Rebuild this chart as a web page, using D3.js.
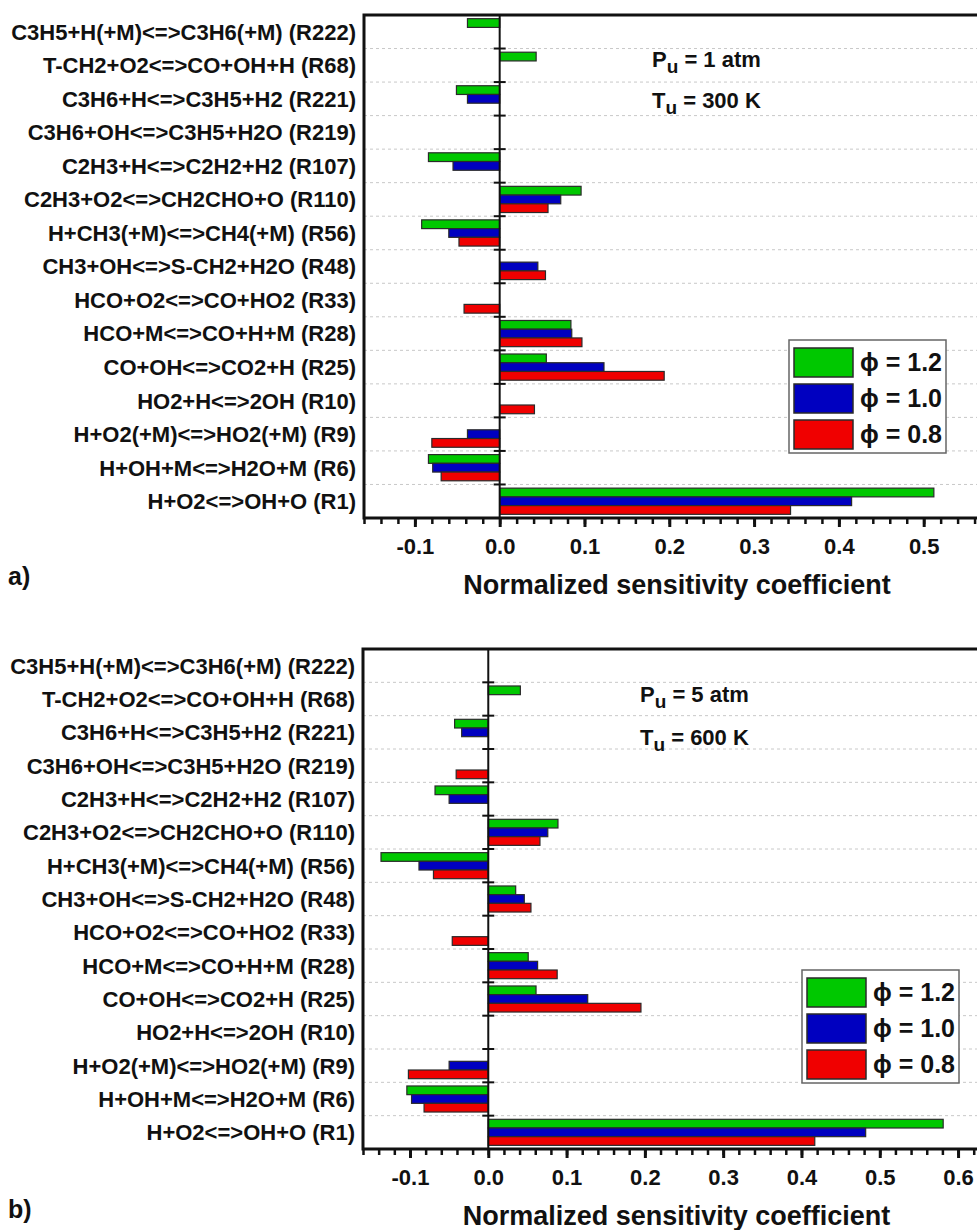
<!DOCTYPE html>
<html>
<head>
<meta charset="utf-8">
<script src="https://cdn.jsdelivr.net/npm/d3@7"></script>
<style>
    body { margin: 0; background: #fff; }
    svg text { font-family: "Liberation Sans", Arial, sans-serif; font-weight: bold; fill: #111; }
</style>
</head>
<body>
<div id="chart"></div>
<script>
// Reactions, listed top to bottom as in the figure
var reactions = [
    'C3H5+H(+M)<=>C3H6(+M) (R222)',
    'T-CH2+O2<=>CO+OH+H (R68)',
    'C3H6+H<=>C3H5+H2 (R221)',
    'C3H6+OH<=>C3H5+H2O (R219)',
    'C2H3+H<=>C2H2+H2 (R107)',
    'C2H3+O2<=>CH2CHO+O (R110)',
    'H+CH3(+M)<=>CH4(+M) (R56)',
    'CH3+OH<=>S-CH2+H2O (R48)',
    'HCO+O2<=>CO+HO2 (R33)',
    'HCO+M<=>CO+H+M (R28)',
    'CO+OH<=>CO2+H (R25)',
    'HO2+H<=>2OH (R10)',
    'H+O2(+M)<=>HO2(+M) (R9)',
    'H+OH+M<=>H2O+M (R6)',
    'H+O2<=>OH+O (R1)'
];

var seriesLabels = ['\u03D5 = 1.2', '\u03D5 = 1.0', '\u03D5 = 0.8'];
var seriesColors = ['#00c800', '#0000c0', '#f00000'];

// a) Pu = 1 atm, Tu = 300 K  (null = bar not shown)
var phi12Atm1 = [-0.038, 0.043, -0.051, null, -0.084, 0.096, -0.092, null, null, 0.084, 0.055, null, null, -0.084, 0.512];
var phi10Atm1 = [null, null, -0.038, null, -0.055, 0.072, -0.060, 0.045, null, 0.085, 0.123, null, -0.038, -0.079, 0.415];
var phi08Atm1 = [null, null, null, null, null, 0.057, -0.048, 0.054, -0.042, 0.097, 0.194, 0.041, -0.080, -0.069, 0.343];

// b) Pu = 5 atm, Tu = 600 K
var phi12Atm5 = [null, 0.041, -0.043, null, -0.068, 0.089, -0.137, 0.035, null, 0.051, 0.061, null, null, -0.104, 0.581];
var phi10Atm5 = [null, null, -0.034, null, -0.050, 0.076, -0.0885, 0.046, null, 0.063, 0.127, null, -0.050, -0.098, 0.482];
var phi08Atm5 = [null, null, null, -0.041, null, 0.066, -0.070, 0.0545, -0.046, 0.088, 0.195, null, -0.102, -0.082, 0.417];

// Axis ticks
var ticksAtm1 = [-0.1, 0, 0.1, 0.2, 0.3, 0.4, 0.5];
var ticksAtm5 = [-0.1, 0, 0.1, 0.2, 0.3, 0.4, 0.5, 0.6];

var xTitle = 'Normalized sensitivity coefficient';

var width = 977, height = 1230;

var svg = d3.select('#chart')
    .append('svg')
    .attr('width', width)
    .attr('height', height);

function drawPanel(cfg) {
    var g = svg.append('g');

    var x = d3.scaleLinear().domain(cfg.domain).range([cfg.left, cfg.right]);
    var y = d3.scaleBand().domain(reactions).range([cfg.top, cfg.bottom]);
    var yInner = d3.scaleBand().domain([0, 1, 2]).range([0, y.bandwidth()]).paddingOuter(0.42);

    // dotted grid lines at row boundaries
    g.selectAll('.grid')
        .data(reactions.slice(1))
        .enter().append('line')
        .attr('x1', cfg.left).attr('x2', cfg.right)
        .attr('y1', function(d) { return y(d); })
        .attr('y2', function(d) { return y(d); })
        .attr('stroke', '#c8c8c8')
        .attr('stroke-width', 1)
        .attr('stroke-dasharray', '3,3');

    // bars
    cfg.series.forEach(function(values, si) {
        g.selectAll('.bar' + si)
            .data(values.map(function(v, i) { return { v: v, r: reactions[i] }; })
                .filter(function(d) { return d.v !== null; }))
            .enter().append('rect')
            .attr('x', function(d) { return x(Math.min(0, d.v)); })
            .attr('width', function(d) { return Math.abs(x(d.v) - x(0)); })
            .attr('y', function(d) { return y(d.r) + yInner(si); })
            .attr('height', yInner.bandwidth())
            .attr('fill', seriesColors[si])
            .attr('stroke', '#2a2a2a')
            .attr('stroke-width', 1.2);
    });

    // zero line with category ticks
    g.append('line')
        .attr('x1', x(0)).attr('x2', x(0))
        .attr('y1', cfg.top).attr('y2', cfg.bottom)
        .attr('stroke', '#111').attr('stroke-width', 2);

    g.selectAll('.ytick')
        .data(reactions.slice(1))
        .enter().append('line')
        .attr('x1', x(0) - 6).attr('x2', x(0) + 6)
        .attr('y1', function(d) { return y(d); })
        .attr('y2', function(d) { return y(d); })
        .attr('stroke', '#111').attr('stroke-width', 2);

    // category labels
    g.selectAll('.ylabel')
        .data(reactions)
        .enter().append('text')
        .attr('x', cfg.left - 8)
        .attr('y', function(d) { return y(d) + y.bandwidth() / 2; })
        .attr('dy', '0.36em')
        .attr('text-anchor', 'end')
        .style('font-size', '22px')
        .text(function(d) { return d; });

    // frame (left, top, bottom thick)
    g.append('path')
        .attr('d', 'M' + cfg.right + ',' + cfg.top + 'H' + cfg.left + 'V' + cfg.bottom + 'H' + cfg.right)
        .attr('fill', 'none')
        .attr('stroke', '#111')
        .attr('stroke-width', 3);

    // minor ticks every 0.02
    var minor = d3.range(Math.round(cfg.domain[0] * 50), Math.round(cfg.domain[1] * 50) + 1)
        .map(function(k) { return k / 50; });

    var minorAxis = g.append('g')
        .attr('transform', 'translate(0,' + cfg.bottom + ')')
        .call(d3.axisBottom(x).tickValues(minor).tickSize(6).tickSizeOuter(0).tickFormat(''));
    minorAxis.select('.domain').remove();
    minorAxis.selectAll('line').attr('stroke', '#111').attr('stroke-width', 2.5);

    var majorAxis = g.append('g')
        .attr('transform', 'translate(0,' + cfg.bottom + ')')
        .call(d3.axisBottom(x).tickValues(cfg.ticks).tickSize(9).tickSizeOuter(0).tickPadding(11)
            .tickFormat(function(d) { return d.toFixed(1); }));
    majorAxis.select('.domain').remove();
    majorAxis.selectAll('line').attr('stroke', '#111').attr('stroke-width', 3);
    majorAxis.selectAll('text')
        .attr('fill', '#111')
        .style('font-family', '"Liberation Sans", Arial, sans-serif')
        .style('font-weight', 'bold')
        .style('font-size', '22px');

    // axis title
    g.append('text')
        .attr('x', (cfg.left + cfg.right) / 2)
        .attr('y', cfg.bottom + 76)
        .attr('text-anchor', 'middle')
        .style('font-size', '27px')
        .text(xTitle);

    // panel letter
    g.append('text')
        .attr('x', 8)
        .attr('y', cfg.letterY)
        .style('font-size', '25px')
        .text(cfg.letter);

    // conditions
    cfg.notes.forEach(function(n, i) {
        var t = g.append('text')
            .attr('x', cfg.noteX)
            .attr('y', cfg.noteY[i])
            .style('font-size', '22px');
        t.append('tspan').text(n[0]);
        t.append('tspan').attr('dy', 6).style('font-size', '19px').text('u');
        t.append('tspan').attr('dy', -6).text(n[1]);
    });

    // legend
    var lg = g.append('g').attr('transform', 'translate(' + cfg.legend[0] + ',' + cfg.legend[1] + ')');
    lg.append('rect')
        .attr('width', 157).attr('height', 113)
        .attr('fill', '#fff')
        .attr('stroke', '#666')
        .attr('stroke-width', 1.5);
    seriesLabels.forEach(function(lbl, i) {
        lg.append('rect')
            .attr('x', 5).attr('y', 8 + i * 36)
            .attr('width', 59).attr('height', 29)
            .attr('fill', seriesColors[i])
            .attr('stroke', '#2a2a2a')
            .attr('stroke-width', 1.5);
        lg.append('text')
            .attr('x', 71).attr('y', 8 + i * 36 + 23)
            .style('font-size', '25px')
            .text(lbl);
    });
}

drawPanel({
    top: 15, bottom: 518, left: 364, right: 990,
    domain: [-0.16, 0.5782],
    ticks: ticksAtm1,
    series: [phi12Atm1, phi10Atm1, phi08Atm1],
    letter: 'a)', letterY: 585,
    notes: [['P', ' = 1 atm'], ['T', ' = 300 K']],
    noteX: 652, noteY: [67, 108],
    legend: [789, 340]
});

drawPanel({
    top: 649, bottom: 1149, left: 363, right: 990,
    domain: [-0.16, 0.6408],
    ticks: ticksAtm5,
    series: [phi12Atm5, phi10Atm5, phi08Atm5],
    letter: 'b)', letterY: 1218,
    notes: [['P', ' = 5 atm'], ['T', ' = 600 K']],
    noteX: 640, noteY: [702, 745],
    legend: [802, 970]
});
</script>
</body>
</html>
